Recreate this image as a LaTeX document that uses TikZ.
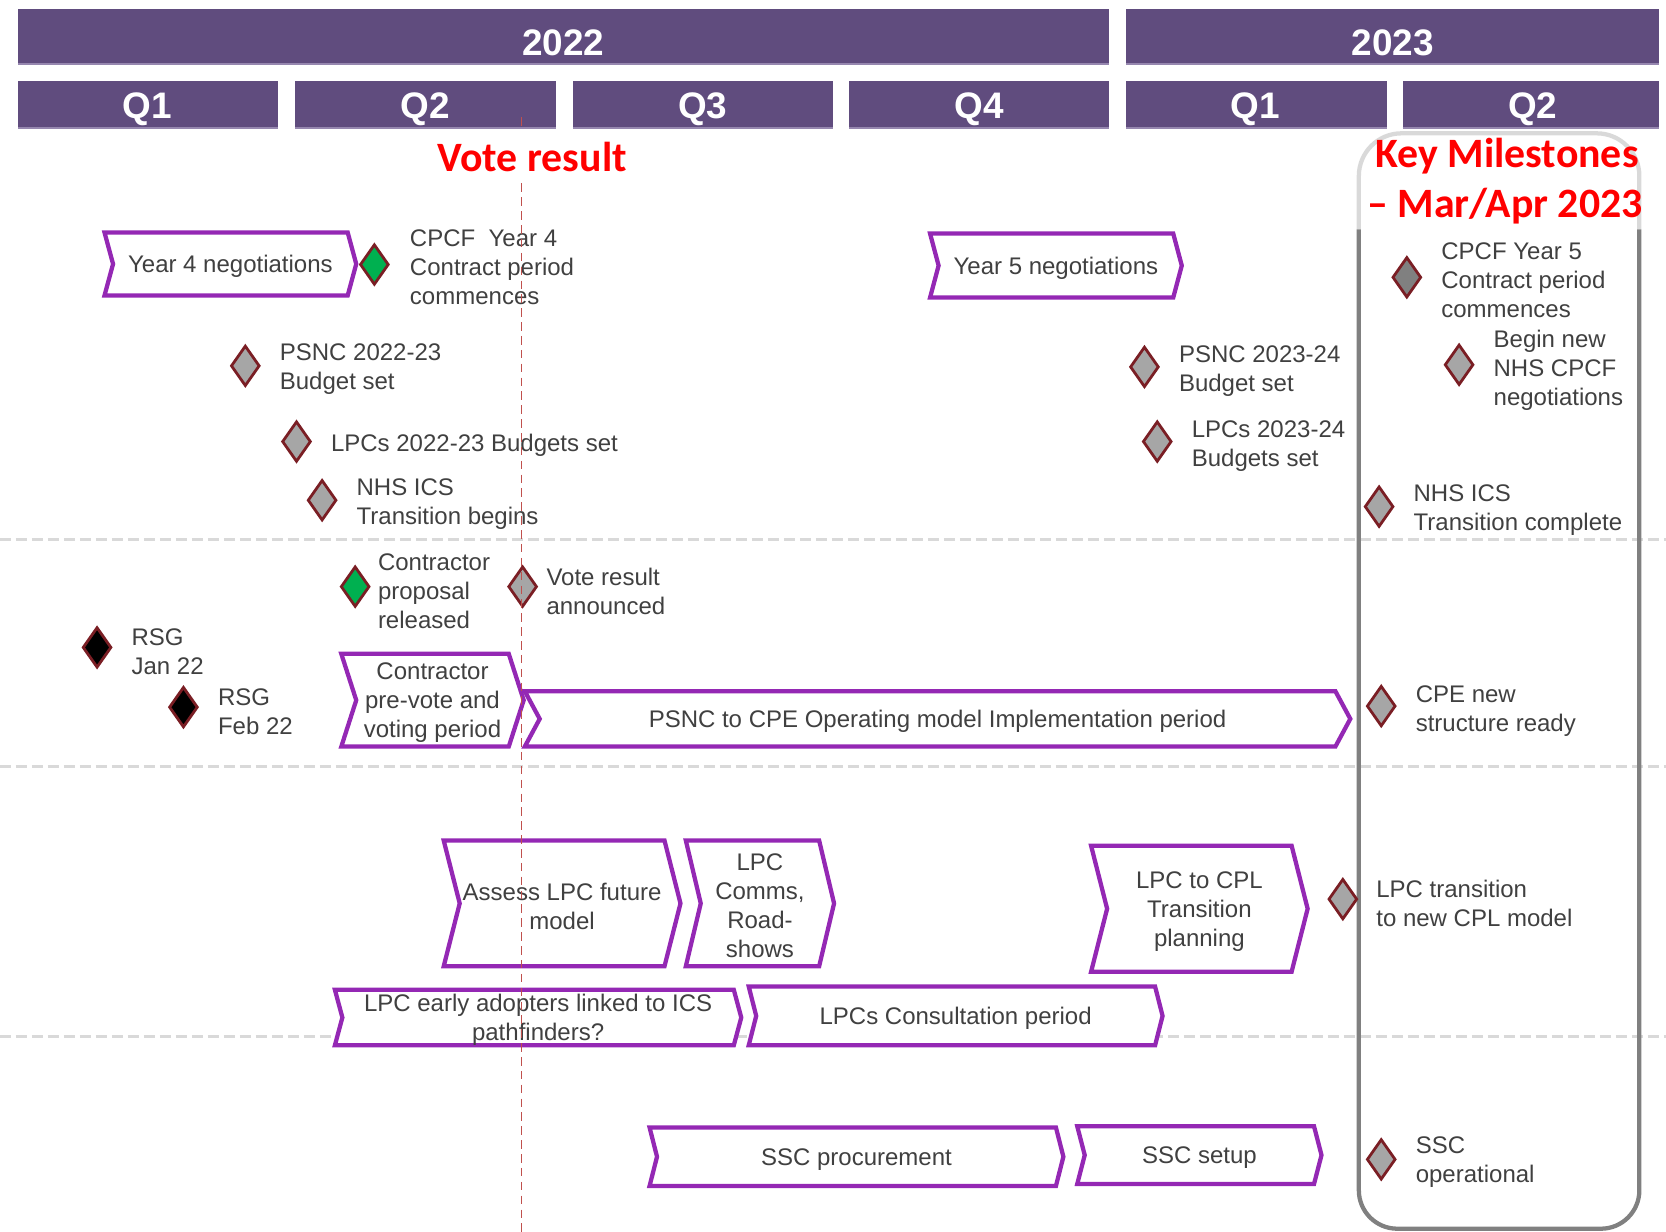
\documentclass[tikz,border=0pt]{standalone}
\usepackage{fontspec}
\setmainfont{Liberation Sans}
\newfontfamily\calfont{Carlito}
\usetikzlibrary{shapes.geometric}
\definecolor{hdr}{RGB}{96,76,126}
\definecolor{hdrl}{RGB}{150,135,175}
\definecolor{chevc}{RGB}{148,40,180}
\definecolor{txt}{RGB}{64,64,64}
\definecolor{dmout}{RGB}{122,30,36}
\definecolor{dmfill}{RGB}{166,166,166}
\definecolor{dmdark}{RGB}{128,128,128}
\definecolor{gfill}{RGB}{0,176,80}
\definecolor{sepc}{RGB}{217,217,217}
\definecolor{vline}{RGB}{192,80,77}
\definecolor{boxg}{RGB}{128,128,128}
\definecolor{boxl}{RGB}{217,217,217}
\definecolor{kred}{RGB}{255,0,0}
\tikzset{
 hbar/.style={fill=hdr},
 hedge/.style={draw=hdrl, line width=0.6pt},
 hlab/.style={text=white, font=\fontsize{17.3}{20}\selectfont\bfseries, inner sep=0pt},
 redtitle/.style={text=kred, font=\calfont\bfseries\fontsize{19.6}{22}\selectfont, inner sep=0pt},
 lbl/.style={anchor=west, text=txt, font=\fontsize{11.25}{13.6}\selectfont, align=left, inner sep=0pt, yshift=-1.25pt},
 ctxt/.style={text=txt, font=\fontsize{11.25}{13.6}\selectfont, align=center, inner sep=0pt, yshift=-1.25pt},
 chev/.style={draw=chevc, line width=2pt, fill=white, line join=miter},
 ms/.style={diamond, draw=dmout, line width=1.3pt, fill=dmfill, minimum width=13.5pt, minimum height=19pt, inner sep=0pt},
 msg/.style={ms, fill=gfill},
 msb/.style={ms, fill=black},
 msd/.style={ms, fill=dmdark},
 sepline/.style={draw=sepc, line width=1.5pt, dash pattern=on 5pt off 2.5pt},
 voteline/.style={draw=vline, line width=0.75pt, dash pattern=on 4pt off 2.5pt},
}
% name, xl, xr, ytop, ybottom, depth, text
\newcommand\chevbox[7]{%
 \draw[chev] (#2,#4) -- (#3,#4) -- ({#3+#6},{(#4+#5)/2}) -- (#3,#5) -- (#2,#5) -- ({#2+#6},{(#4+#5)/2}) -- cycle;
 \node[ctxt] (#1) at ({(#2+#3+#6)/2},{(#4+#5)/2}) {#7};%
}
% header bar: xl, xr, ytop, ybottom
\newcommand\hbarbox[4]{%
 \fill[hbar] (#1,#3) rectangle (#2,#4);
 \draw[hedge] (#1,#4) -- (#2,#4);%
}
\begin{document}
\begin{tikzpicture}[x=0.5pt,y=-0.5pt]
\useasboundingbox (0,0) rectangle (1562,1155);
% separators
\coordinate (s1a) at (0,506); \coordinate (s1b) at (1562,506);
\coordinate (s2a) at (0,719); \coordinate (s2b) at (1562,719);
\coordinate (s3a) at (0,972); \coordinate (s3b) at (1562,972);
\draw[sepline] (s1a) -- (s1b);
\draw[sepline] (s2a) -- (s2b);
\draw[sepline] (s3a) -- (s3b);
% key milestone frame
\draw[draw=boxl, line width=2pt, rounded corners=20pt] (1274,215) -- (1274,125) -- (1537,125) -- (1537,215);
\draw[draw=boxg, line width=2pt, rounded corners=18pt] (1274,215) -- (1274,1152) -- (1537,1152) -- (1537,215);
% header
\hbarbox{17}{1040}{8}{60}
\hbarbox{1056}{1555}{8}{60}
\node[hlab] (y22) at (528,40.5) {2022};
\node[hlab] (y23) at (1306,40.5) {2023};
\hbarbox{17}{261}{76}{120}
\hbarbox{277}{521}{76}{120}
\hbarbox{537}{781}{76}{120}
\hbarbox{796}{1040}{76}{120}
\hbarbox{1056}{1300}{76}{120}
\hbarbox{1315}{1555}{76}{120}
\node[hlab] (q1) at (138,102) {Q1};
\node[hlab] (q2) at (399,102) {Q2};
\node[hlab] (q3) at (659,102) {Q3};
\node[hlab] (q4) at (918,102) {Q4};
\node[hlab] (q5) at (1177,102) {Q1};
\node[hlab] (q6) at (1437,102) {Q2};
% chevrons
\chevbox{yr4}{98}{326}{218}{277}{8}{Year 4 negotiations}
\chevbox{yr5}{872}{1100}{219}{279}{8}{Year 5 negotiations}
\chevbox{prevote}{320}{477}{613}{700}{14}{Contractor\\pre-vote and\\voting period}
\chevbox{impl}{492}{1252}{648}{700}{14}{PSNC to CPE Operating model Implementation period}
\chevbox{assess}{416}{623}{788}{906}{15}{Assess LPC future\\model}
\chevbox{comms}{643}{768}{788}{906}{14}{LPC\\Comms,\\Road-\\shows}
\chevbox{cpl}{1023}{1211}{793}{911}{15}{LPC to CPL\\Transition\\planning}
\chevbox{early}{314}{688}{928}{980}{7}{LPC early adopters linked to ICS\\pathfinders?}
\chevbox{consult}{702}{1083}{925}{980}{7}{LPCs Consultation period}
\chevbox{sscp}{609}{990}{1057}{1112}{7}{SSC procurement}
\chevbox{sscs}{1010}{1232}{1056}{1110}{7}{SSC setup}
% milestones
\node[msg] (m1) at (351,248) {};
\node[lbl] (l1) at (384,248.5) {CPCF\ \ Year 4\\Contract period\\commences};
\node[ms] (m2) at (230,343) {};
\node[lbl] (l2) at (262,344) {PSNC 2022-23\\Budget set};
\node[ms] (m3) at (278,414) {};
\node[lbl] (l3) at (310,415) {LPCs 2022-23 Budgets set};
\node[ms] (m4) at (302,469) {};
\node[lbl] (l4) at (334,470) {NHS ICS\\Transition begins};
\node[msg] (m5) at (333,550) {};
\node[lbl] (l5) at (354,551.5) {Contractor\\proposal\\released};
\node[ms] (m6) at (490,550) {};
\node[lbl] (l6) at (512,552) {Vote result\\announced};
\node[msb] (m7) at (91,607) {};
\node[lbl] (l7) at (123,609) {RSG\\Jan 22};
\node[msb] (m8) at (172,663) {};
\node[lbl] (l8) at (204,664.5) {RSG\\Feb 22};
\node[ms] (m9) at (1073,344) {};
\node[lbl] (l9) at (1105,345.5) {PSNC 2023-24\\Budget set};
\node[ms] (m10) at (1085,414) {};
\node[lbl] (l10) at (1117,415.5) {LPCs 2023-24\\Budgets set};
\node[msd] (m11) at (1319,260) {};
\node[lbl] (l11) at (1351,260.5) {CPCF Year 5\\Contract period\\commences};
\node[ms] (m12) at (1368,342) {};
\node[lbl] (l12) at (1400,344.5) {Begin new\\NHS CPCF\\negotiations};
\node[ms] (m13) at (1293,475) {};
\node[lbl] (l13) at (1325,476) {NHS ICS\\Transition complete};
\node[ms] (m14) at (1295,662) {};
\node[lbl] (l14) at (1327,664.5) {CPE new\\structure ready};
\node[ms] (m15) at (1259,843) {};
\node[lbl] (l15) at (1290,844.5) {LPC transition\\to new CPL model};
\node[ms] (m16) at (1295,1087) {};
\node[lbl] (l16) at (1327,1087.5) {SSC\\operational};
% titles
\node[redtitle] (vt) at (499,147) {Vote result};
\node[redtitle] (km1) at (1413,146.5) {Key Milestones};
\node[redtitle] (km2) at (1411,193) {– Mar/Apr 2023};
% vote line
\coordinate (v0) at (489,110); \coordinate (v1) at (489,121);
\coordinate (v2) at (489,172); \coordinate (v3) at (489,1155);
\draw[voteline] (v0) -- (v1);
\draw[voteline] (v2) -- (v3);
\end{tikzpicture}
\end{document}
